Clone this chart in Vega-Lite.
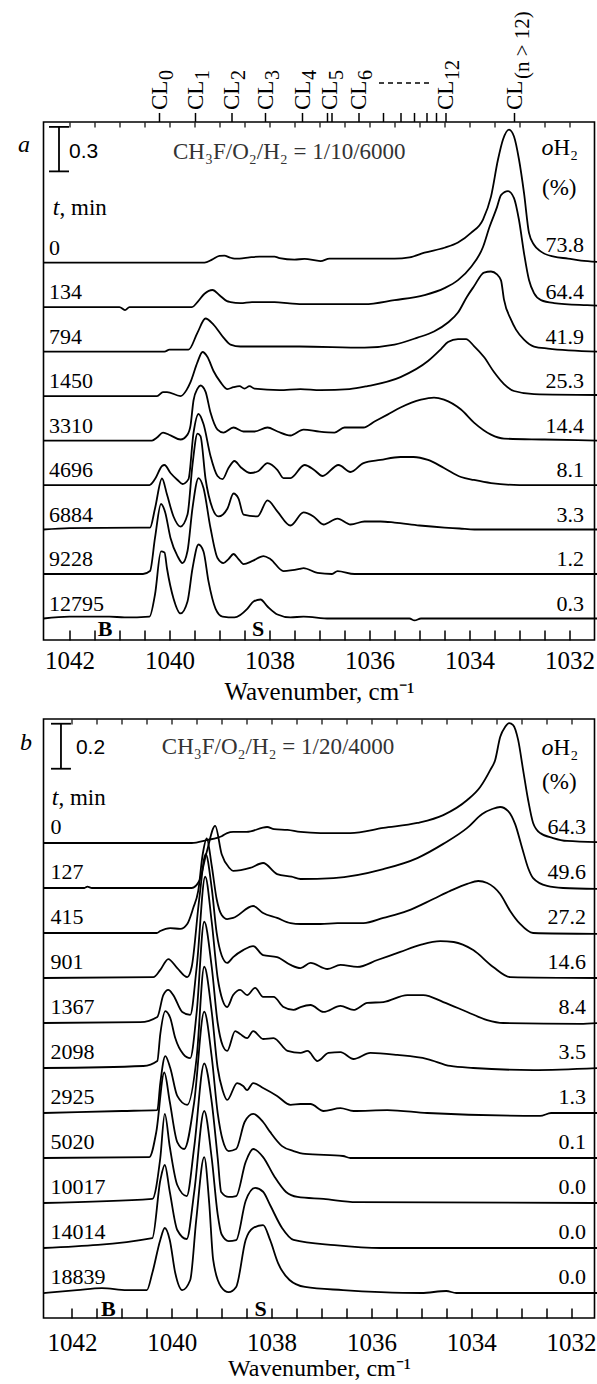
{
"$schema": "https://vega.github.io/schema/vega-lite/v6.json",
"autosize": {"type": "none"},
"padding": {"left": 43.5, "top": 122, "right": 553.5, "bottom": 1262},
"background": "white",
"config": {"view": {"stroke": "black", "strokeWidth": 1.6}, "text": {"font": "Liberation Serif", "color": "black"}},
"spacing": 79,
"bounds": "flush",
"datasets": {
"specA": [
{"s":"0","x":1042.52,"A":2.4},{"s":"0","x":1039.3,"A":2.4},{"s":"0","x":1039.15,"A":2.42},{"s":"0","x":1039.0,"A":2.445},{"s":"0","x":1038.9,"A":2.447},{"s":"0","x":1038.8,"A":2.435},{"s":"0","x":1038.7,"A":2.427},{"s":"0","x":1038.6,"A":2.427},{"s":"0","x":1038.4,"A":2.435},{"s":"0","x":1038.2,"A":2.44},{"s":"0","x":1037.9,"A":2.44},{"s":"0","x":1037.8,"A":2.43},{"s":"0","x":1037.5,"A":2.42},{"s":"0","x":1037.3,"A":2.425},{"s":"0","x":1036.98,"A":2.41},{"s":"0","x":1036.8,"A":2.427},{"s":"0","x":1035.5,"A":2.427},{"s":"0","x":1035.2,"A":2.435},{"s":"0","x":1034.9,"A":2.467},{"s":"0","x":1034.5,"A":2.5},{"s":"0","x":1034.23,"A":2.535},{"s":"0","x":1033.97,"A":2.6},{"s":"0","x":1033.73,"A":2.69},{"s":"0","x":1033.57,"A":2.845},{"s":"0","x":1033.43,"A":3.095},{"s":"0","x":1033.33,"A":3.23},{"s":"0","x":1033.21,"A":3.297},{"s":"0","x":1033.11,"A":3.25},{"s":"0","x":1033.01,"A":3.095},{"s":"0","x":1032.91,"A":2.87},{"s":"0","x":1032.81,"A":2.6},{"s":"0","x":1032.71,"A":2.52},{"s":"0","x":1032.57,"A":2.474},{"s":"0","x":1032.31,"A":2.44},{"s":"0","x":1032.03,"A":2.427},{"s":"0","x":1031.77,"A":2.413},{"s":"0","x":1031.44,"A":2.405},
{"s":"134","x":1042.52,"A":2.1},{"s":"134","x":1041.0,"A":2.1},{"s":"134","x":1040.89,"A":2.08},{"s":"134","x":1040.8,"A":2.1},{"s":"134","x":1039.55,"A":2.1},{"s":"134","x":1039.45,"A":2.13},{"s":"134","x":1039.3,"A":2.19},{"s":"134","x":1039.14,"A":2.215},{"s":"134","x":1039.0,"A":2.18},{"s":"134","x":1038.85,"A":2.14},{"s":"134","x":1038.78,"A":2.134},{"s":"134","x":1038.58,"A":2.127},{"s":"134","x":1038.35,"A":2.134},{"s":"134","x":1037.9,"A":2.134},{"s":"134","x":1037.6,"A":2.125},{"s":"134","x":1037.4,"A":2.12},{"s":"134","x":1036.1,"A":2.12},{"s":"134","x":1035.5,"A":2.147},{"s":"134","x":1034.9,"A":2.181},{"s":"134","x":1034.5,"A":2.228},{"s":"134","x":1034.23,"A":2.282},{"s":"134","x":1033.97,"A":2.37},{"s":"134","x":1033.73,"A":2.505},{"s":"134","x":1033.6,"A":2.64},{"s":"134","x":1033.45,"A":2.774},{"s":"134","x":1033.37,"A":2.855},{"s":"134","x":1033.23,"A":2.882},{"s":"134","x":1033.11,"A":2.835},{"s":"134","x":1033.01,"A":2.687},{"s":"134","x":1032.91,"A":2.464},{"s":"134","x":1032.81,"A":2.282},{"s":"134","x":1032.71,"A":2.194},{"s":"134","x":1032.57,"A":2.147},{"s":"134","x":1032.31,"A":2.127},{"s":"134","x":1031.65,"A":2.113},{"s":"134","x":1031.44,"A":2.11},
{"s":"794","x":1042.52,"A":1.8},{"s":"794","x":1040.1,"A":1.8},{"s":"794","x":1040.0,"A":1.813},{"s":"794","x":1039.72,"A":1.813},{"s":"794","x":1039.62,"A":1.813},{"s":"794","x":1039.44,"A":1.928},{"s":"794","x":1039.28,"A":2.023},{"s":"794","x":1039.12,"A":1.982},{"s":"794","x":1038.92,"A":1.894},{"s":"794","x":1038.78,"A":1.847},{"s":"794","x":1038.58,"A":1.834},{"s":"794","x":1037.4,"A":1.834},{"s":"794","x":1036.1,"A":1.827},{"s":"794","x":1035.5,"A":1.847},{"s":"794","x":1035.04,"A":1.894},{"s":"794","x":1034.71,"A":1.935},{"s":"794","x":1034.43,"A":1.996},{"s":"794","x":1034.23,"A":2.063},{"s":"794","x":1034.05,"A":2.17},{"s":"794","x":1033.91,"A":2.24},{"s":"794","x":1033.71,"A":2.333},{"s":"794","x":1033.57,"A":2.34},{"s":"794","x":1033.45,"A":2.32},{"s":"794","x":1033.37,"A":2.28},{"s":"794","x":1033.31,"A":2.15},{"s":"794","x":1033.17,"A":2.016},{"s":"794","x":1033.07,"A":1.948},{"s":"794","x":1032.91,"A":1.881},{"s":"794","x":1032.71,"A":1.834},{"s":"794","x":1032.43,"A":1.82},{"s":"794","x":1031.44,"A":1.8},
{"s":"1450","x":1042.52,"A":1.5},{"s":"1450","x":1040.25,"A":1.5},{"s":"1450","x":1040.13,"A":1.527},{"s":"1450","x":1040.05,"A":1.527},{"s":"1450","x":1039.78,"A":1.5},{"s":"1450","x":1039.66,"A":1.54},{"s":"1450","x":1039.58,"A":1.594},{"s":"1450","x":1039.44,"A":1.729},{"s":"1450","x":1039.34,"A":1.797},{"s":"1450","x":1039.24,"A":1.763},{"s":"1450","x":1039.12,"A":1.669},{"s":"1450","x":1038.98,"A":1.594},{"s":"1450","x":1038.84,"A":1.547},{"s":"1450","x":1038.72,"A":1.56},{"s":"1450","x":1038.6,"A":1.567},{"s":"1450","x":1038.5,"A":1.55},{"s":"1450","x":1038.4,"A":1.567},{"s":"1450","x":1038.3,"A":1.55},{"s":"1450","x":1037.8,"A":1.54},{"s":"1450","x":1037.38,"A":1.547},{"s":"1450","x":1036.98,"A":1.54},{"s":"1450","x":1036.4,"A":1.547},{"s":"1450","x":1036.04,"A":1.567},{"s":"1450","x":1035.38,"A":1.628},{"s":"1450","x":1034.83,"A":1.736},{"s":"1450","x":1034.57,"A":1.817},{"s":"1450","x":1034.43,"A":1.864},{"s":"1450","x":1034.23,"A":1.884},{"s":"1450","x":1034.07,"A":1.884},{"s":"1450","x":1033.91,"A":1.837},{"s":"1450","x":1033.71,"A":1.763},{"s":"1450","x":1033.51,"A":1.662},{"s":"1450","x":1033.31,"A":1.581},{"s":"1450","x":1033.11,"A":1.534},{"s":"1450","x":1032.71,"A":1.513},{"s":"1450","x":1031.44,"A":1.507},
{"s":"3310","x":1042.52,"A":1.2},{"s":"3310","x":1040.35,"A":1.2},{"s":"3310","x":1040.25,"A":1.22},{"s":"3310","x":1040.13,"A":1.254},{"s":"3310","x":1039.98,"A":1.235},{"s":"3310","x":1039.78,"A":1.207},{"s":"3310","x":1039.64,"A":1.24},{"s":"3310","x":1039.58,"A":1.3},{"s":"3310","x":1039.52,"A":1.47},{"s":"3310","x":1039.44,"A":1.55},{"s":"3310","x":1039.38,"A":1.571},{"s":"3310","x":1039.28,"A":1.53},{"s":"3310","x":1039.18,"A":1.389},{"s":"3310","x":1039.04,"A":1.274},{"s":"3310","x":1038.92,"A":1.254},{"s":"3310","x":1038.72,"A":1.288},{"s":"3310","x":1038.52,"A":1.261},{"s":"3310","x":1038.3,"A":1.261},{"s":"3310","x":1038.04,"A":1.288},{"s":"3310","x":1037.84,"A":1.261},{"s":"3310","x":1037.58,"A":1.234},{"s":"3310","x":1037.32,"A":1.274},{"s":"3310","x":1037.0,"A":1.26},{"s":"3310","x":1036.7,"A":1.254},{"s":"3310","x":1036.5,"A":1.288},{"s":"3310","x":1036.12,"A":1.288},{"s":"3310","x":1035.9,"A":1.328},{"s":"3310","x":1035.64,"A":1.375},{"s":"3310","x":1035.38,"A":1.423},{"s":"3310","x":1034.97,"A":1.476},{"s":"3310","x":1034.71,"A":1.49},{"s":"3310","x":1034.51,"A":1.476},{"s":"3310","x":1034.17,"A":1.409},{"s":"3310","x":1033.91,"A":1.321},{"s":"3310","x":1033.57,"A":1.24},{"s":"3310","x":1033.31,"A":1.213},{"s":"3310","x":1032.5,"A":1.207},{"s":"3310","x":1031.44,"A":1.2},
{"s":"4696","x":1042.52,"A":0.9},{"s":"4696","x":1040.4,"A":0.9},{"s":"4696","x":1040.29,"A":0.94},{"s":"4696","x":1040.15,"A":1.028},{"s":"4696","x":1040.1,"A":1.035},{"s":"4696","x":1039.98,"A":0.981},{"s":"4696","x":1039.84,"A":0.934},{"s":"4696","x":1039.74,"A":0.907},{"s":"4696","x":1039.62,"A":0.94},{"s":"4696","x":1039.52,"A":1.251},{"s":"4696","x":1039.42,"A":1.379},{"s":"4696","x":1039.32,"A":1.311},{"s":"4696","x":1039.18,"A":1.096},{"s":"4696","x":1039.04,"A":0.961},{"s":"4696","x":1038.94,"A":0.94},{"s":"4696","x":1038.82,"A":1.015},{"s":"4696","x":1038.7,"A":1.062},{"s":"4696","x":1038.58,"A":1.022},{"s":"4696","x":1038.38,"A":0.981},{"s":"4696","x":1038.22,"A":0.995},{"s":"4696","x":1038.04,"A":1.048},{"s":"4696","x":1037.84,"A":1.001},{"s":"4696","x":1037.72,"A":0.947},{"s":"4696","x":1037.58,"A":0.947},{"s":"4696","x":1037.3,"A":1.035},{"s":"4696","x":1037.1,"A":1.0},{"s":"4696","x":1036.94,"A":0.961},{"s":"4696","x":1036.62,"A":1.035},{"s":"4696","x":1036.38,"A":0.988},{"s":"4696","x":1036.12,"A":1.048},{"s":"4696","x":1035.78,"A":1.069},{"s":"4696","x":1035.38,"A":1.089},{"s":"4696","x":1035.12,"A":1.089},{"s":"4696","x":1034.83,"A":1.069},{"s":"4696","x":1034.51,"A":1.015},{"s":"4696","x":1034.17,"A":0.954},{"s":"4696","x":1033.91,"A":0.934},{"s":"4696","x":1033.57,"A":0.913},{"s":"4696","x":1033.0,"A":0.9},{"s":"4696","x":1031.44,"A":0.9},
{"s":"6884","x":1042.52,"A":0.6},{"s":"6884","x":1042.0,"A":0.61},{"s":"6884","x":1040.6,"A":0.613},{"s":"6884","x":1040.39,"A":0.613},{"s":"6884","x":1040.29,"A":0.742},{"s":"6884","x":1040.15,"A":0.944},{"s":"6884","x":1040.05,"A":0.836},{"s":"6884","x":1039.92,"A":0.688},{"s":"6884","x":1039.78,"A":0.62},{"s":"6884","x":1039.64,"A":0.701},{"s":"6884","x":1039.54,"A":1.038},{"s":"6884","x":1039.44,"A":1.247},{"s":"6884","x":1039.38,"A":1.23},{"s":"6884","x":1039.28,"A":0.944},{"s":"6884","x":1039.14,"A":0.742},{"s":"6884","x":1039.02,"A":0.688},{"s":"6884","x":1038.84,"A":0.742},{"s":"6884","x":1038.72,"A":0.843},{"s":"6884","x":1038.62,"A":0.809},{"s":"6884","x":1038.52,"A":0.701},{"s":"6884","x":1038.24,"A":0.688},{"s":"6884","x":1038.04,"A":0.796},{"s":"6884","x":1037.84,"A":0.721},{"s":"6884","x":1037.58,"A":0.627},{"s":"6884","x":1037.32,"A":0.715},{"s":"6884","x":1037.12,"A":0.688},{"s":"6884","x":1036.92,"A":0.634},{"s":"6884","x":1036.64,"A":0.674},{"s":"6884","x":1036.38,"A":0.634},{"s":"6884","x":1036.1,"A":0.654},{"s":"6884","x":1035.78,"A":0.654},{"s":"6884","x":1035.5,"A":0.647},{"s":"6884","x":1035.0,"A":0.627},{"s":"6884","x":1034.5,"A":0.613},{"s":"6884","x":1034.2,"A":0.607},{"s":"6884","x":1033.9,"A":0.6},{"s":"6884","x":1031.44,"A":0.6},
{"s":"9228","x":1042.52,"A":0.3},{"s":"9228","x":1040.53,"A":0.3},{"s":"9228","x":1040.39,"A":0.32},{"s":"9228","x":1040.29,"A":0.543},{"s":"9228","x":1040.17,"A":0.772},{"s":"9228","x":1040.09,"A":0.72},{"s":"9228","x":1039.98,"A":0.543},{"s":"9228","x":1039.84,"A":0.421},{"s":"9228","x":1039.74,"A":0.374},{"s":"9228","x":1039.64,"A":0.455},{"s":"9228","x":1039.54,"A":0.745},{"s":"9228","x":1039.42,"A":0.947},{"s":"9228","x":1039.32,"A":0.88},{"s":"9228","x":1039.18,"A":0.61},{"s":"9228","x":1039.04,"A":0.408},{"s":"9228","x":1038.92,"A":0.374},{"s":"9228","x":1038.82,"A":0.4},{"s":"9228","x":1038.72,"A":0.435},{"s":"9228","x":1038.62,"A":0.401},{"s":"9228","x":1038.52,"A":0.367},{"s":"9228","x":1038.34,"A":0.388},{"s":"9228","x":1038.12,"A":0.421},{"s":"9228","x":1037.98,"A":0.4},{"s":"9228","x":1037.72,"A":0.32},{"s":"9228","x":1037.4,"A":0.334},{"s":"9228","x":1037.32,"A":0.34},{"s":"9228","x":1037.04,"A":0.307},{"s":"9228","x":1036.75,"A":0.3},{"s":"9228","x":1036.64,"A":0.32},{"s":"9228","x":1036.3,"A":0.3},{"s":"9228","x":1031.44,"A":0.3},
{"s":"12795","x":1042.52,"A":0},{"s":"12795","x":1042.0,"A":0.013},{"s":"12795","x":1041.6,"A":0.013},{"s":"12795","x":1041.2,"A":0.013},{"s":"12795","x":1040.9,"A":0.007},{"s":"12795","x":1040.4,"A":0.013},{"s":"12795","x":1040.29,"A":0.162},{"s":"12795","x":1040.17,"A":0.452},{"s":"12795","x":1040.1,"A":0.445},{"s":"12795","x":1040.05,"A":0.337},{"s":"12795","x":1039.92,"A":0.135},{"s":"12795","x":1039.78,"A":0.034},{"s":"12795","x":1039.64,"A":0.115},{"s":"12795","x":1039.54,"A":0.337},{"s":"12795","x":1039.42,"A":0.499},{"s":"12795","x":1039.32,"A":0.452},{"s":"12795","x":1039.22,"A":0.25},{"s":"12795","x":1039.08,"A":0.067},{"s":"12795","x":1038.94,"A":0.013},{"s":"12795","x":1038.7,"A":0.007},{"s":"12795","x":1038.44,"A":0.067},{"s":"12795","x":1038.32,"A":0.115},{"s":"12795","x":1038.18,"A":0.128},{"s":"12795","x":1038.04,"A":0.081},{"s":"12795","x":1037.84,"A":0.027},{"s":"12795","x":1037.58,"A":0.007},{"s":"12795","x":1037.32,"A":0.013},{"s":"12795","x":1036.8,"A":0},{"s":"12795","x":1035.2,"A":0},{"s":"12795","x":1035.1,"A":-0.013},{"s":"12795","x":1034.97,"A":0},{"s":"12795","x":1031.44,"A":0}
],
"specB": [
{"s":"0","x":1042.57,"A":2.0},{"s":"0","x":1039.6,"A":2.0},{"s":"0","x":1039.3,"A":2.013},{"s":"0","x":1039.0,"A":2.03},{"s":"0","x":1038.89,"A":2.044},{"s":"0","x":1038.77,"A":2.049},{"s":"0","x":1038.5,"A":2.049},{"s":"0","x":1038.09,"A":2.071},{"s":"0","x":1037.95,"A":2.062},{"s":"0","x":1037.68,"A":2.058},{"s":"0","x":1037.42,"A":2.049},{"s":"0","x":1037.02,"A":2.044},{"s":"0","x":1036.42,"A":2.044},{"s":"0","x":1035.76,"A":2.067},{"s":"0","x":1035.08,"A":2.089},{"s":"0","x":1034.56,"A":2.124},{"s":"0","x":1034.08,"A":2.191},{"s":"0","x":1033.82,"A":2.249},{"s":"0","x":1033.62,"A":2.324},{"s":"0","x":1033.52,"A":2.369},{"s":"0","x":1033.42,"A":2.471},{"s":"0","x":1033.32,"A":2.516},{"s":"0","x":1033.24,"A":2.533},{"s":"0","x":1033.16,"A":2.524},{"s":"0","x":1033.06,"A":2.458},{"s":"0","x":1032.96,"A":2.324},{"s":"0","x":1032.86,"A":2.191},{"s":"0","x":1032.76,"A":2.089},{"s":"0","x":1032.62,"A":2.044},{"s":"0","x":1032.36,"A":2.022},{"s":"0","x":1032.08,"A":2.009},{"s":"0","x":1031.45,"A":2.004},
{"s":"127","x":1042.57,"A":1.8},{"s":"127","x":1041.75,"A":1.8},{"s":"127","x":1041.69,"A":1.806},{"s":"127","x":1041.6,"A":1.8},{"s":"127","x":1039.6,"A":1.8},{"s":"127","x":1039.45,"A":1.831},{"s":"127","x":1039.3,"A":1.96},{"s":"127","x":1039.13,"A":2.076},{"s":"127","x":1039.0,"A":1.95},{"s":"127","x":1038.85,"A":1.89},{"s":"127","x":1038.77,"A":1.876},{"s":"127","x":1038.43,"A":1.889},{"s":"127","x":1038.17,"A":1.911},{"s":"127","x":1037.89,"A":1.862},{"s":"127","x":1037.6,"A":1.85},{"s":"127","x":1037.42,"A":1.84},{"s":"127","x":1036.76,"A":1.844},{"s":"127","x":1035.76,"A":1.884},{"s":"127","x":1035.08,"A":1.933},{"s":"127","x":1034.56,"A":1.996},{"s":"127","x":1034.08,"A":2.067},{"s":"127","x":1033.78,"A":2.129},{"s":"127","x":1033.58,"A":2.151},{"s":"127","x":1033.42,"A":2.16},{"s":"127","x":1033.26,"A":2.142},{"s":"127","x":1033.12,"A":2.084},{"s":"127","x":1032.98,"A":1.978},{"s":"127","x":1032.86,"A":1.889},{"s":"127","x":1032.76,"A":1.844},{"s":"127","x":1032.48,"A":1.809},{"s":"127","x":1032.16,"A":1.8},{"s":"127","x":1031.45,"A":1.796},
{"s":"415","x":1042.57,"A":1.6},{"s":"415","x":1040.3,"A":1.6},{"s":"415","x":1040.23,"A":1.609},{"s":"415","x":1040.03,"A":1.622},{"s":"415","x":1039.83,"A":1.618},{"s":"415","x":1039.69,"A":1.64},{"s":"415","x":1039.57,"A":1.711},{"s":"415","x":1039.47,"A":1.787},{"s":"415","x":1039.38,"A":1.95},{"s":"415","x":1039.3,"A":2.02},{"s":"415","x":1039.2,"A":1.9},{"s":"415","x":1039.1,"A":1.75},{"s":"415","x":1039.0,"A":1.68},{"s":"415","x":1038.89,"A":1.662},{"s":"415","x":1038.77,"A":1.667},{"s":"415","x":1038.37,"A":1.72},{"s":"415","x":1038.17,"A":1.689},{"s":"415","x":1037.89,"A":1.667},{"s":"415","x":1037.62,"A":1.644},{"s":"415","x":1037.42,"A":1.64},{"s":"415","x":1037.02,"A":1.64},{"s":"415","x":1036.68,"A":1.644},{"s":"415","x":1036.16,"A":1.644},{"s":"415","x":1035.76,"A":1.667},{"s":"415","x":1035.28,"A":1.698},{"s":"415","x":1034.76,"A":1.751},{"s":"415","x":1034.42,"A":1.787},{"s":"415","x":1034.08,"A":1.818},{"s":"415","x":1033.86,"A":1.831},{"s":"415","x":1033.68,"A":1.822},{"s":"415","x":1033.42,"A":1.773},{"s":"415","x":1033.22,"A":1.698},{"s":"415","x":1033.02,"A":1.64},{"s":"415","x":1032.76,"A":1.6},{"s":"415","x":1031.45,"A":1.596},
{"s":"901","x":1042.57,"A":1.4},{"s":"901","x":1040.37,"A":1.404},{"s":"901","x":1040.23,"A":1.436},{"s":"901","x":1040.07,"A":1.484},{"s":"901","x":1039.89,"A":1.444},{"s":"901","x":1039.69,"A":1.404},{"s":"901","x":1039.6,"A":1.45},{"s":"901","x":1039.45,"A":1.75},{"s":"901","x":1039.32,"A":1.95},{"s":"901","x":1039.2,"A":1.8},{"s":"901","x":1039.1,"A":1.6},{"s":"901","x":1039.0,"A":1.5},{"s":"901","x":1038.89,"A":1.467},{"s":"901","x":1038.77,"A":1.493},{"s":"901","x":1038.57,"A":1.524},{"s":"901","x":1038.37,"A":1.542},{"s":"901","x":1038.17,"A":1.502},{"s":"901","x":1037.89,"A":1.493},{"s":"901","x":1037.62,"A":1.458},{"s":"901","x":1037.42,"A":1.444},{"s":"901","x":1037.22,"A":1.467},{"s":"901","x":1036.88,"A":1.44},{"s":"901","x":1036.62,"A":1.458},{"s":"901","x":1036.28,"A":1.449},{"s":"901","x":1035.88,"A":1.48},{"s":"901","x":1035.42,"A":1.516},{"s":"901","x":1035.02,"A":1.547},{"s":"901","x":1034.62,"A":1.564},{"s":"901","x":1034.35,"A":1.56},{"s":"901","x":1033.96,"A":1.524},{"s":"901","x":1033.56,"A":1.449},{"s":"901","x":1033.22,"A":1.404},{"s":"901","x":1031.45,"A":1.4},
{"s":"1367","x":1042.57,"A":1.2},{"s":"1367","x":1040.63,"A":1.204},{"s":"1367","x":1040.29,"A":1.227},{"s":"1367","x":1040.17,"A":1.324},{"s":"1367","x":1040.07,"A":1.347},{"s":"1367","x":1039.97,"A":1.324},{"s":"1367","x":1039.79,"A":1.249},{"s":"1367","x":1039.63,"A":1.236},{"s":"1367","x":1039.5,"A":1.45},{"s":"1367","x":1039.33,"A":1.85},{"s":"1367","x":1039.2,"A":1.65},{"s":"1367","x":1039.08,"A":1.4},{"s":"1367","x":1038.98,"A":1.3},{"s":"1367","x":1038.89,"A":1.271},{"s":"1367","x":1038.77,"A":1.324},{"s":"1367","x":1038.63,"A":1.347},{"s":"1367","x":1038.49,"A":1.324},{"s":"1367","x":1038.33,"A":1.356},{"s":"1367","x":1038.17,"A":1.316},{"s":"1367","x":1037.96,"A":1.316},{"s":"1367","x":1037.76,"A":1.271},{"s":"1367","x":1037.56,"A":1.258},{"s":"1367","x":1037.42,"A":1.271},{"s":"1367","x":1037.22,"A":1.28},{"s":"1367","x":1036.96,"A":1.249},{"s":"1367","x":1036.62,"A":1.276},{"s":"1367","x":1036.36,"A":1.258},{"s":"1367","x":1036.08,"A":1.289},{"s":"1367","x":1035.76,"A":1.293},{"s":"1367","x":1035.28,"A":1.324},{"s":"1367","x":1034.96,"A":1.324},{"s":"1367","x":1034.56,"A":1.293},{"s":"1367","x":1034.08,"A":1.249},{"s":"1367","x":1033.68,"A":1.213},{"s":"1367","x":1033.36,"A":1.2},{"s":"1367","x":1031.82,"A":1.196},{"s":"1367","x":1031.45,"A":1.2},
{"s":"2098","x":1042.57,"A":1.0},{"s":"2098","x":1040.57,"A":1.009},{"s":"2098","x":1040.29,"A":1.031},{"s":"2098","x":1040.23,"A":1.151},{"s":"2098","x":1040.13,"A":1.253},{"s":"2098","x":1040.03,"A":1.222},{"s":"2098","x":1039.93,"A":1.133},{"s":"2098","x":1039.77,"A":1.062},{"s":"2098","x":1039.63,"A":1.044},{"s":"2098","x":1039.5,"A":1.25},{"s":"2098","x":1039.35,"A":1.65},{"s":"2098","x":1039.2,"A":1.45},{"s":"2098","x":1039.08,"A":1.2},{"s":"2098","x":1038.98,"A":1.1},{"s":"2098","x":1038.89,"A":1.076},{"s":"2098","x":1038.73,"A":1.164},{"s":"2098","x":1038.63,"A":1.151},{"s":"2098","x":1038.49,"A":1.133},{"s":"2098","x":1038.37,"A":1.164},{"s":"2098","x":1038.17,"A":1.129},{"s":"2098","x":1037.96,"A":1.133},{"s":"2098","x":1037.68,"A":1.076},{"s":"2098","x":1037.42,"A":1.067},{"s":"2098","x":1037.28,"A":1.076},{"s":"2098","x":1037.08,"A":1.031},{"s":"2098","x":1036.86,"A":1.067},{"s":"2098","x":1036.62,"A":1.071},{"s":"2098","x":1036.36,"A":1.04},{"s":"2098","x":1036.02,"A":1.067},{"s":"2098","x":1035.48,"A":1.058},{"s":"2098","x":1034.88,"A":1.04},{"s":"2098","x":1034.42,"A":1.009},{"s":"2098","x":1033.96,"A":1.0},{"s":"2098","x":1032.76,"A":0.991},{"s":"2098","x":1031.45,"A":1.0},
{"s":"2925","x":1042.57,"A":0.8},{"s":"2925","x":1041.0,"A":0.809},{"s":"2925","x":1040.29,"A":0.813},{"s":"2925","x":1040.23,"A":0.933},{"s":"2925","x":1040.13,"A":1.053},{"s":"2925","x":1040.03,"A":1.0},{"s":"2925","x":1039.89,"A":0.876},{"s":"2925","x":1039.69,"A":0.836},{"s":"2925","x":1039.5,"A":1.05},{"s":"2925","x":1039.35,"A":1.45},{"s":"2925","x":1039.2,"A":1.25},{"s":"2925","x":1039.08,"A":1.0},{"s":"2925","x":1038.98,"A":0.9},{"s":"2925","x":1038.89,"A":0.858},{"s":"2925","x":1038.69,"A":0.933},{"s":"2925","x":1038.57,"A":0.92},{"s":"2925","x":1038.49,"A":0.902},{"s":"2925","x":1038.37,"A":0.933},{"s":"2925","x":1038.17,"A":0.911},{"s":"2925","x":1037.89,"A":0.876},{"s":"2925","x":1037.62,"A":0.836},{"s":"2925","x":1037.42,"A":0.84},{"s":"2925","x":1037.22,"A":0.84},{"s":"2925","x":1036.96,"A":0.809},{"s":"2925","x":1036.62,"A":0.822},{"s":"2925","x":1036.36,"A":0.809},{"s":"2925","x":1035.68,"A":0.813},{"s":"2925","x":1034.88,"A":0.8},{"s":"2925","x":1032.62,"A":0.787},{"s":"2925","x":1032.4,"A":0.8},{"s":"2925","x":1031.45,"A":0.8},
{"s":"5020","x":1042.57,"A":0.6},{"s":"5020","x":1040.45,"A":0.604},{"s":"5020","x":1040.31,"A":0.716},{"s":"5020","x":1040.15,"A":0.98},{"s":"5020","x":1040.04,"A":0.85},{"s":"5020","x":1039.89,"A":0.671},{"s":"5020","x":1039.75,"A":0.64},{"s":"5020","x":1039.55,"A":0.85},{"s":"5020","x":1039.35,"A":1.25},{"s":"5020","x":1039.2,"A":1.05},{"s":"5020","x":1039.08,"A":0.8},{"s":"5020","x":1038.98,"A":0.68},{"s":"5020","x":1038.86,"A":0.631},{"s":"5020","x":1038.71,"A":0.64},{"s":"5020","x":1038.54,"A":0.76},{"s":"5020","x":1038.37,"A":0.796},{"s":"5020","x":1038.17,"A":0.76},{"s":"5020","x":1038.03,"A":0.716},{"s":"5020","x":1037.79,"A":0.653},{"s":"5020","x":1037.56,"A":0.631},{"s":"5020","x":1037.33,"A":0.618},{"s":"5020","x":1036.57,"A":0.609},{"s":"5020","x":1036.42,"A":0.6},{"s":"5020","x":1031.45,"A":0.6},
{"s":"10017","x":1042.57,"A":0.4},{"s":"10017","x":1040.39,"A":0.418},{"s":"10017","x":1040.23,"A":0.6},{"s":"10017","x":1040.14,"A":0.796},{"s":"10017","x":1040.04,"A":0.65},{"s":"10017","x":1039.89,"A":0.48},{"s":"10017","x":1039.7,"A":0.431},{"s":"10017","x":1039.55,"A":0.65},{"s":"10017","x":1039.35,"A":1.02},{"s":"10017","x":1039.2,"A":0.85},{"s":"10017","x":1039.08,"A":0.6},{"s":"10017","x":1039.01,"A":0.449},{"s":"10017","x":1038.86,"A":0.427},{"s":"10017","x":1038.71,"A":0.431},{"s":"10017","x":1038.52,"A":0.582},{"s":"10017","x":1038.37,"A":0.64},{"s":"10017","x":1038.17,"A":0.604},{"s":"10017","x":1037.95,"A":0.52},{"s":"10017","x":1037.71,"A":0.449},{"s":"10017","x":1037.48,"A":0.427},{"s":"10017","x":1036.96,"A":0.418},{"s":"10017","x":1036.3,"A":0.404},{"s":"10017","x":1031.45,"A":0.4},
{"s":"14014","x":1042.57,"A":0.2},{"s":"14014","x":1040.39,"A":0.244},{"s":"14014","x":1040.23,"A":0.5},{"s":"14014","x":1040.14,"A":0.569},{"s":"14014","x":1040.04,"A":0.45},{"s":"14014","x":1039.89,"A":0.28},{"s":"14014","x":1039.7,"A":0.24},{"s":"14014","x":1039.55,"A":0.45},{"s":"14014","x":1039.35,"A":0.809},{"s":"14014","x":1039.2,"A":0.6},{"s":"14014","x":1039.08,"A":0.35},{"s":"14014","x":1039.0,"A":0.26},{"s":"14014","x":1038.86,"A":0.231},{"s":"14014","x":1038.71,"A":0.235},{"s":"14014","x":1038.52,"A":0.409},{"s":"14014","x":1038.33,"A":0.467},{"s":"14014","x":1038.17,"A":0.45},{"s":"14014","x":1038.03,"A":0.391},{"s":"14014","x":1037.79,"A":0.289},{"s":"14014","x":1037.56,"A":0.236},{"s":"14014","x":1036.74,"A":0.213},{"s":"14014","x":1035.81,"A":0.2},{"s":"14014","x":1031.45,"A":0.2},
{"s":"18839","x":1042.57,"A":0},{"s":"18839","x":1041.9,"A":0.013},{"s":"18839","x":1041.4,"A":0.022},{"s":"18839","x":1040.9,"A":0.013},{"s":"18839","x":1040.5,"A":0.013},{"s":"18839","x":1040.39,"A":0.089},{"s":"18839","x":1040.23,"A":0.236},{"s":"18839","x":1040.14,"A":0.289},{"s":"18839","x":1040.04,"A":0.236},{"s":"18839","x":1039.93,"A":0.089},{"s":"18839","x":1039.79,"A":0.013},{"s":"18839","x":1039.63,"A":0.058},{"s":"18839","x":1039.51,"A":0.324},{"s":"18839","x":1039.35,"A":0.604},{"s":"18839","x":1039.25,"A":0.4},{"s":"18839","x":1039.17,"A":0.147},{"s":"18839","x":1039.01,"A":0.027},{"s":"18839","x":1038.86,"A":0.004},{"s":"18839","x":1038.71,"A":0.027},{"s":"18839","x":1038.52,"A":0.236},{"s":"18839","x":1038.37,"A":0.289},{"s":"18839","x":1038.17,"A":0.302},{"s":"18839","x":1038.03,"A":0.236},{"s":"18839","x":1037.87,"A":0.133},{"s":"18839","x":1037.64,"A":0.058},{"s":"18839","x":1037.33,"A":0.027},{"s":"18839","x":1036.57,"A":0.013},{"s":"18839","x":1035.81,"A":0.004},{"s":"18839","x":1035.0,"A":0},{"s":"18839","x":1034.5,"A":0.009},{"s":"18839","x":1034.3,"A":0},{"s":"18839","x":1031.45,"A":0}
],
"annA": [
{"k":"left","t":"0","x":1042.41,"A":2.5},{"k":"left","t":"134","x":1042.41,"A":2.2},{"k":"left","t":"794","x":1042.41,"A":1.9},{"k":"left","t":"1450","x":1042.41,"A":1.6},{"k":"left","t":"3310","x":1042.41,"A":1.3},{"k":"left","t":"4696","x":1042.41,"A":1.0},{"k":"left","t":"6884","x":1042.41,"A":0.7},{"k":"left","t":"9228","x":1042.41,"A":0.4},{"k":"left","t":"12795","x":1042.41,"A":0.1},
{"k":"right","t":"73.8","x":1031.71,"A":2.52},{"k":"right","t":"64.4","x":1031.71,"A":2.2},{"k":"right","t":"41.9","x":1031.71,"A":1.9},{"k":"right","t":"25.3","x":1031.71,"A":1.6},{"k":"right","t":"14.4","x":1031.71,"A":1.3},{"k":"right","t":"8.1","x":1031.71,"A":1.0},{"k":"right","t":"3.3","x":1031.71,"A":0.7},{"k":"right","t":"1.2","x":1031.71,"A":0.4},{"k":"right","t":"0.3","x":1031.71,"A":0.1},
{"k":"ital","t":"a","x":1042.79,"A":3.19},{"k":"ital","t":"t","x":1042.2,"A":2.771},{"k":"ital","t":"o","x":1032.32,"A":3.176},
{"k":"rom","t":", min","x":1042.2,"A":2.771},{"k":"rom","t":"H₂","x":1032.32,"A":3.176},{"k":"rom","t":"(%)","x":1032.55,"A":2.906},
{"k":"gray","t":"CH₃F/O₂/H₂ = 1/10/6000","x":1039.93,"A":3.149},
{"k":"sans","t":"0.3","x":1042.01,"A":3.149},
{"k":"bold","t":"B","x":1041.29,"A":-0.074},{"k":"bold","t":"S","x":1038.23,"A":-0.074}
],
"annB": [
{"k":"left","t":"0","x":1042.43,"A":2.071},{"k":"left","t":"127","x":1042.43,"A":1.871},{"k":"left","t":"415","x":1042.43,"A":1.671},{"k":"left","t":"901","x":1042.43,"A":1.471},{"k":"left","t":"1367","x":1042.43,"A":1.271},{"k":"left","t":"2098","x":1042.43,"A":1.071},{"k":"left","t":"2925","x":1042.43,"A":0.871},{"k":"left","t":"5020","x":1042.43,"A":0.671},{"k":"left","t":"10017","x":1042.43,"A":0.471},{"k":"left","t":"14014","x":1042.43,"A":0.271},{"k":"left","t":"18839","x":1042.43,"A":0.071},
{"k":"right","t":"64.3","x":1031.7,"A":2.071},{"k":"right","t":"49.6","x":1031.7,"A":1.871},{"k":"right","t":"27.2","x":1031.7,"A":1.671},{"k":"right","t":"14.6","x":1031.7,"A":1.471},{"k":"right","t":"8.4","x":1031.7,"A":1.271},{"k":"right","t":"3.5","x":1031.7,"A":1.071},{"k":"right","t":"1.3","x":1031.7,"A":0.871},{"k":"right","t":"0.1","x":1031.7,"A":0.671},{"k":"right","t":"0.0","x":1031.7,"A":0.471},{"k":"right","t":"0.0","x":1031.7,"A":0.271},{"k":"right","t":"0.0","x":1031.7,"A":0.071},
{"k":"ital","t":"b","x":1042.8,"A":2.444},{"k":"ital","t":"t","x":1042.27,"A":2.2},{"k":"ital","t":"o","x":1032.35,"A":2.422},
{"k":"rom","t":", min","x":1042.27,"A":2.2},{"k":"rom","t":"H₂","x":1032.35,"A":2.422},{"k":"rom","t":"(%)","x":1032.58,"A":2.271},
{"k":"gray","t":"CH₃F/O₂/H₂ = 1/20/4000","x":1040.2,"A":2.427},
{"k":"sans","t":"0.2","x":1041.92,"A":2.422},
{"k":"bold","t":"B","x":1041.27,"A":-0.071},{"k":"bold","t":"S","x":1038.22,"A":-0.071}
],
"clLabels": [
{"x":1040.2,"sub":"0","g":"d"},{"x":1039.48,"sub":"1","g":"d"},{"x":1038.75,"sub":"2","g":"d"},{"x":1038.08,"sub":"3","g":"d"},{"x":1037.34,"sub":"4","g":"d"},{"x":1036.8,"sub":"5","g":"d"},{"x":1036.21,"sub":"6","g":"d"},{"x":1034.47,"sub":"12","g":"d"},{"x":1033.1,"sub":"(n > 12)","g":"n"}
],
"clTicks": [
{"x":1040.2},{"x":1039.48},{"x":1038.75},{"x":1038.08},{"x":1037.34},{"x":1036.84},{"x":1036.75},{"x":1036.21},{"x":1035.72},{"x":1035.37},{"x":1035.1},{"x":1034.85},{"x":1034.66},{"x":1034.47},{"x":1033.1}
],
"dash": [{"x":1035.81,"x2":1034.78}],
"barA": [{"x":1042.21,"y":3.015,"y2":3.315}],
"capA": [{"x":1042.41,"x2":1042.01,"y":3.015},{"x":1042.41,"x2":1042.01,"y":3.315}],
"barB": [{"x":1042.22,"y":2.33,"y2":2.53}],
"capB": [{"x":1042.42,"x2":1042.02,"y":2.33},{"x":1042.42,"x2":1042.02,"y":2.53}]
},
"vconcat": [
{
"width": 551, "height": 518,
"resolve": {"axis": {"x": "independent"}},
"layer": [
{"data": {"name": "specA"},
 "mark": {"type": "line", "stroke": "black", "strokeWidth": 1.8, "interpolate": "monotone"},
 "encoding": {
  "x": {"field": "x", "type": "quantitative", "scale": {"domain": [1031.5, 1042.52], "reverse": true, "nice": false, "zero": false},
   "axis": {"orient": "bottom", "values": [1032,1032.5,1033,1033.5,1034,1034.5,1035,1035.5,1036,1036.5,1037,1037.5,1038,1038.5,1039,1039.5,1040,1040.5,1041,1041.5,1042],
    "tickSize": -10, "tickWidth": 1.5, "tickColor": "black", "domain": false, "grid": false,
    "labelExpr": "datum.value % 2 == 0 ? format(datum.value, 'd') : ''", "labelFont": "Liberation Serif", "labelFontSize": 25, "labelColor": "black", "labelPadding": 18.7, "labelFlush": false, "labelOverlap": false,
    "title": "Wavenumber, cm⁻¹", "titleFont": "Liberation Serif", "titleFontSize": 25, "titleFontWeight": "normal", "titleColor": "black", "titlePadding": 6}},
  "y": {"field": "A", "type": "quantitative", "scale": {"domain": [-0.145, 3.348], "nice": false, "zero": false},
   "axis": {"title": "Absorbance", "labels": false, "ticks": false, "domain": false, "grid": false, "titleFont": "Liberation Serif", "titleFontSize": 25, "titleFontWeight": "normal", "titleColor": "black", "titlePadding": 8}},
  "detail": {"field": "s"}
 }},
{"data": {"name": "clTicks"},
 "mark": {"type": "rule", "stroke": "black", "strokeWidth": 1.5},
 "encoding": {
  "x": {"field": "x", "type": "quantitative", "axis": {"orient": "top", "values": [1032,1032.5,1033,1033.5,1034,1034.5,1035,1035.5,1036,1036.5,1037,1037.5,1038,1038.5,1039,1039.5,1040,1040.5,1041,1041.5,1042], "tickSize": -5, "tickWidth": 1.2, "tickColor": "black", "labels": false, "domain": false, "grid": false, "title": null}},
  "y": {"datum": 3.348, "axis": null},
  "y2": {"datum": 3.409}
 }},
{"data": {"name": "dash"},
 "mark": {"type": "rule", "stroke": "black", "strokeWidth": 1.5, "strokeDash": [5, 4]},
 "encoding": {
  "x": {"field": "x", "type": "quantitative", "axis": null},
  "x2": {"field": "x2"},
  "y": {"datum": 3.611, "axis": null}
 }},
{"data": {"name": "clLabels"},
 "mark": {"type": "text", "angle": 270, "align": "left", "baseline": "middle", "font": "Liberation Serif", "fontSize": 23, "color": "black"},
 "encoding": {
  "x": {"field": "x", "type": "quantitative", "axis": null},
  "y": {"datum": 3.429, "axis": null},
  "text": {"value": "CL"}
 }},
{"data": {"name": "clLabels"}, "transform": [{"filter": "datum.g == 'd'"}],
 "mark": {"type": "text", "angle": 270, "align": "left", "baseline": "middle", "font": "Liberation Serif", "fontSize": 20, "color": "black", "dx": 30, "dy": 7},
 "encoding": {
  "x": {"field": "x", "type": "quantitative", "axis": null},
  "y": {"datum": 3.429, "axis": null},
  "text": {"field": "sub"}
 }},
{"data": {"name": "clLabels"}, "transform": [{"filter": "datum.g == 'n'"}],
 "mark": {"type": "text", "angle": 270, "align": "left", "baseline": "middle", "font": "Liberation Serif", "fontSize": 21, "color": "black", "dx": 31, "dy": 8},
 "encoding": {
  "x": {"field": "x", "type": "quantitative", "axis": null},
  "y": {"datum": 3.429, "axis": null},
  "text": {"field": "sub"}
 }},
{"data": {"name": "annA"}, "transform": [{"filter": "datum.k == 'left'"}],
 "mark": {"type": "text", "align": "left", "baseline": "middle", "font": "Liberation Serif", "fontSize": 22, "color": "black"},
 "encoding": {"x": {"field": "x", "type": "quantitative", "axis": null}, "y": {"field": "A", "type": "quantitative", "axis": null}, "text": {"field": "t"}}},
{"data": {"name": "annA"}, "transform": [{"filter": "datum.k == 'right'"}],
 "mark": {"type": "text", "align": "right", "baseline": "middle", "font": "Liberation Serif", "fontSize": 22, "color": "black"},
 "encoding": {"x": {"field": "x", "type": "quantitative", "axis": null}, "y": {"field": "A", "type": "quantitative", "axis": null}, "text": {"field": "t"}}},
{"data": {"name": "annA"}, "transform": [{"filter": "datum.k == 'ital'"}],
 "mark": {"type": "text", "align": "right", "baseline": "middle", "font": "Liberation Serif", "fontStyle": "italic", "fontSize": 24, "color": "black"},
 "encoding": {"x": {"field": "x", "type": "quantitative", "axis": null}, "y": {"field": "A", "type": "quantitative", "axis": null}, "text": {"field": "t"}}},
{"data": {"name": "annA"}, "transform": [{"filter": "datum.k == 'rom'"}],
 "mark": {"type": "text", "align": "left", "baseline": "middle", "font": "Liberation Serif", "fontSize": 23, "color": "black"},
 "encoding": {"x": {"field": "x", "type": "quantitative", "axis": null}, "y": {"field": "A", "type": "quantitative", "axis": null}, "text": {"field": "t"}}},
{"data": {"name": "annA"}, "transform": [{"filter": "datum.k == 'gray'"}],
 "mark": {"type": "text", "align": "left", "baseline": "middle", "font": "Liberation Serif", "fontSize": 23, "color": "#333333"},
 "encoding": {"x": {"field": "x", "type": "quantitative", "axis": null}, "y": {"field": "A", "type": "quantitative", "axis": null}, "text": {"field": "t"}}},
{"data": {"name": "annA"}, "transform": [{"filter": "datum.k == 'sans'"}],
 "mark": {"type": "text", "align": "left", "baseline": "middle", "font": "Liberation Sans", "fontSize": 21, "color": "black"},
 "encoding": {"x": {"field": "x", "type": "quantitative", "axis": null}, "y": {"field": "A", "type": "quantitative", "axis": null}, "text": {"field": "t"}}},
{"data": {"name": "annA"}, "transform": [{"filter": "datum.k == 'bold'"}],
 "mark": {"type": "text", "align": "center", "baseline": "middle", "font": "Liberation Serif", "fontWeight": "bold", "fontSize": 22, "color": "black"},
 "encoding": {"x": {"field": "x", "type": "quantitative", "axis": null}, "y": {"field": "A", "type": "quantitative", "axis": null}, "text": {"field": "t"}}},
{"data": {"name": "barA"},
 "mark": {"type": "rule", "stroke": "black", "strokeWidth": 1.8},
 "encoding": {"x": {"field": "x", "type": "quantitative", "axis": null}, "y": {"field": "y", "type": "quantitative", "axis": null}, "y2": {"field": "y2"}}},
{"data": {"name": "capA"},
 "mark": {"type": "rule", "stroke": "black", "strokeWidth": 1.8},
 "encoding": {"x": {"field": "x", "type": "quantitative", "axis": null}, "x2": {"field": "x2"}, "y": {"field": "y", "type": "quantitative", "axis": null}}}
]
},
{
"width": 551, "height": 599,
"resolve": {"axis": {"x": "independent"}},
"layer": [
{"data": {"name": "specB"},
 "mark": {"type": "line", "stroke": "black", "strokeWidth": 1.8, "interpolate": "monotone"},
 "encoding": {
  "x": {"field": "x", "type": "quantitative", "scale": {"domain": [1031.53, 1042.57], "reverse": true, "nice": false, "zero": false},
   "axis": {"orient": "bottom", "values": [1032,1032.5,1033,1033.5,1034,1034.5,1035,1035.5,1036,1036.5,1037,1037.5,1038,1038.5,1039,1039.5,1040,1040.5,1041,1041.5,1042],
    "tickSize": -10, "tickWidth": 1.5, "tickColor": "black", "domain": false, "grid": false,
    "labelExpr": "datum.value % 2 == 0 ? format(datum.value, 'd') : ''", "labelFont": "Liberation Serif", "labelFontSize": 25, "labelColor": "black", "labelPadding": 22, "labelFlush": false, "labelOverlap": false,
    "title": "Wavenumber, cm⁻¹", "titleFont": "Liberation Serif", "titleFontSize": 24, "titleFontWeight": "normal", "titleColor": "black", "titlePadding": 1}},
  "y": {"field": "A", "type": "quantitative", "scale": {"domain": [-0.111, 2.551], "nice": false, "zero": false},
   "axis": {"title": "Absorbance", "labels": false, "ticks": false, "domain": false, "grid": false, "titleFont": "Liberation Serif", "titleFontSize": 25, "titleFontWeight": "normal", "titleColor": "black", "titlePadding": 7}},
  "detail": {"field": "s"}
 }},
{"data": {"name": "barB"},
 "mark": {"type": "rule", "stroke": "black", "strokeWidth": 1.8},
 "encoding": {"x": {"field": "x", "type": "quantitative", "axis": {"orient": "top", "values": [1032,1032.5,1033,1033.5,1034,1034.5,1035,1035.5,1036,1036.5,1037,1037.5,1038,1038.5,1039,1039.5,1040,1040.5,1041,1041.5,1042], "tickSize": -5, "tickWidth": 1.2, "tickColor": "black", "labels": false, "domain": false, "grid": false, "title": null}}, "y": {"field": "y", "type": "quantitative", "axis": null}, "y2": {"field": "y2"}}},
{"data": {"name": "capB"},
 "mark": {"type": "rule", "stroke": "black", "strokeWidth": 1.8},
 "encoding": {"x": {"field": "x", "type": "quantitative", "axis": null}, "x2": {"field": "x2"}, "y": {"field": "y", "type": "quantitative", "axis": null}}},
{"data": {"name": "annB"}, "transform": [{"filter": "datum.k == 'left'"}],
 "mark": {"type": "text", "align": "left", "baseline": "middle", "font": "Liberation Serif", "fontSize": 22, "color": "black"},
 "encoding": {"x": {"field": "x", "type": "quantitative", "axis": null}, "y": {"field": "A", "type": "quantitative", "axis": null}, "text": {"field": "t"}}},
{"data": {"name": "annB"}, "transform": [{"filter": "datum.k == 'right'"}],
 "mark": {"type": "text", "align": "right", "baseline": "middle", "font": "Liberation Serif", "fontSize": 22, "color": "black"},
 "encoding": {"x": {"field": "x", "type": "quantitative", "axis": null}, "y": {"field": "A", "type": "quantitative", "axis": null}, "text": {"field": "t"}}},
{"data": {"name": "annB"}, "transform": [{"filter": "datum.k == 'ital'"}],
 "mark": {"type": "text", "align": "right", "baseline": "middle", "font": "Liberation Serif", "fontStyle": "italic", "fontSize": 24, "color": "black"},
 "encoding": {"x": {"field": "x", "type": "quantitative", "axis": null}, "y": {"field": "A", "type": "quantitative", "axis": null}, "text": {"field": "t"}}},
{"data": {"name": "annB"}, "transform": [{"filter": "datum.k == 'rom'"}],
 "mark": {"type": "text", "align": "left", "baseline": "middle", "font": "Liberation Serif", "fontSize": 23, "color": "black"},
 "encoding": {"x": {"field": "x", "type": "quantitative", "axis": null}, "y": {"field": "A", "type": "quantitative", "axis": null}, "text": {"field": "t"}}},
{"data": {"name": "annB"}, "transform": [{"filter": "datum.k == 'gray'"}],
 "mark": {"type": "text", "align": "left", "baseline": "middle", "font": "Liberation Serif", "fontSize": 23, "color": "#333333"},
 "encoding": {"x": {"field": "x", "type": "quantitative", "axis": null}, "y": {"field": "A", "type": "quantitative", "axis": null}, "text": {"field": "t"}}},
{"data": {"name": "annB"}, "transform": [{"filter": "datum.k == 'sans'"}],
 "mark": {"type": "text", "align": "left", "baseline": "middle", "font": "Liberation Sans", "fontSize": 21, "color": "black"},
 "encoding": {"x": {"field": "x", "type": "quantitative", "axis": null}, "y": {"field": "A", "type": "quantitative", "axis": null}, "text": {"field": "t"}}},
{"data": {"name": "annB"}, "transform": [{"filter": "datum.k == 'bold'"}],
 "mark": {"type": "text", "align": "center", "baseline": "middle", "font": "Liberation Serif", "fontWeight": "bold", "fontSize": 22, "color": "black"},
 "encoding": {"x": {"field": "x", "type": "quantitative", "axis": null}, "y": {"field": "A", "type": "quantitative", "axis": null}, "text": {"field": "t"}}}
]
}
]
}
